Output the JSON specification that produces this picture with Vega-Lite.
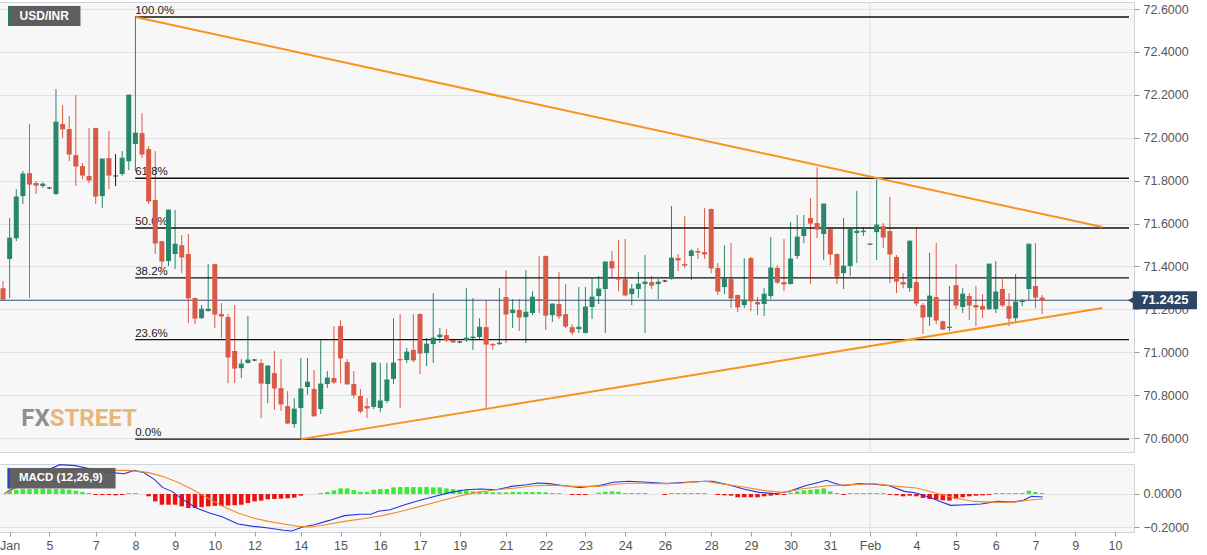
{
"$schema": "https://vega.github.io/schema/vega-lite/v6.json",
"padding": {"left": -2, "top": 1, "right": 0, "bottom": 0},
"background": "white",
"spacing": 10,
"config": {"view": {"fill": "#f7f7f7", "stroke": "#cfd3dc"}, "font": "Liberation Sans"},
"datasets": {
"candles": [
{"i":-1,"o":71.299,"h":71.332,"l":71.239,"c":71.248},
{"i":0,"o":71.435,"h":71.626,"l":71.253,"c":71.532},
{"i":1,"o":71.532,"h":71.761,"l":71.518,"c":71.724},
{"i":2,"o":71.728,"h":71.845,"l":71.691,"c":71.831},
{"i":3,"o":71.835,"h":72.064,"l":71.253,"c":71.784},
{"i":4,"o":71.789,"h":71.798,"l":71.738,"c":71.779},
{"i":5,"o":71.775,"h":71.793,"l":71.766,"c":71.784},
{"i":6,"o":71.766,"h":71.770,"l":71.761,"c":71.766},
{"i":7,"o":71.738,"h":72.227,"l":71.733,"c":72.073},
{"i":8,"o":72.064,"h":72.152,"l":71.999,"c":72.041},
{"i":9,"o":72.041,"h":72.101,"l":71.891,"c":71.924},
{"i":10,"o":71.919,"h":72.199,"l":71.775,"c":71.868},
{"i":11,"o":71.868,"h":71.882,"l":71.807,"c":71.826},
{"i":12,"o":71.822,"h":72.045,"l":71.789,"c":71.803},
{"i":13,"o":72.045,"h":72.047,"l":71.691,"c":71.728},
{"i":14,"o":71.728,"h":71.903,"l":71.672,"c":71.901},
{"i":15,"o":71.905,"h":72.031,"l":71.761,"c":71.826},
{"i":16,"o":71.822,"h":71.924,"l":71.775,"c":71.822},
{"i":17,"o":71.831,"h":71.938,"l":71.822,"c":71.905},
{"i":18,"o":71.891,"h":72.201,"l":71.849,"c":72.199},
{"i":19,"o":71.971,"h":72.567,"l":71.845,"c":72.022},
{"i":20,"o":72.022,"h":72.115,"l":71.905,"c":71.924},
{"i":21,"o":71.947,"h":71.961,"l":71.691,"c":71.705},
{"i":22,"o":71.710,"h":71.938,"l":71.458,"c":71.509},
{"i":23,"o":71.518,"h":71.520,"l":71.388,"c":71.425},
{"i":24,"o":71.425,"h":71.665,"l":71.402,"c":71.663},
{"i":25,"o":71.458,"h":71.663,"l":71.388,"c":71.504},
{"i":26,"o":71.499,"h":71.546,"l":71.369,"c":71.444},
{"i":27,"o":71.458,"h":71.551,"l":71.136,"c":71.253},
{"i":28,"o":71.253,"h":71.255,"l":71.131,"c":71.159},
{"i":29,"o":71.159,"h":71.220,"l":71.155,"c":71.201},
{"i":30,"o":71.192,"h":71.411,"l":71.190,"c":71.201},
{"i":31,"o":71.411,"h":71.413,"l":71.113,"c":71.178},
{"i":32,"o":71.178,"h":71.229,"l":71.066,"c":71.169},
{"i":33,"o":71.164,"h":71.178,"l":70.856,"c":70.978},
{"i":34,"o":71.006,"h":71.220,"l":70.856,"c":70.926},
{"i":35,"o":70.926,"h":70.968,"l":70.880,"c":70.945},
{"i":36,"o":70.950,"h":71.169,"l":70.948,"c":70.964},
{"i":37,"o":70.964,"h":70.968,"l":70.959,"c":70.964},
{"i":38,"o":70.950,"h":70.968,"l":70.693,"c":70.856},
{"i":39,"o":70.852,"h":70.938,"l":70.763,"c":70.936},
{"i":40,"o":70.903,"h":71.006,"l":70.731,"c":70.833},
{"i":41,"o":70.833,"h":70.968,"l":70.726,"c":70.759},
{"i":42,"o":70.749,"h":70.819,"l":70.665,"c":70.670},
{"i":43,"o":70.665,"h":70.786,"l":70.647,"c":70.735},
{"i":44,"o":70.740,"h":70.973,"l":70.595,"c":70.829},
{"i":45,"o":70.838,"h":70.973,"l":70.801,"c":70.861},
{"i":46,"o":70.829,"h":70.917,"l":70.701,"c":70.703},
{"i":47,"o":70.735,"h":71.057,"l":70.712,"c":70.852},
{"i":48,"o":70.852,"h":70.912,"l":70.833,"c":70.880},
{"i":49,"o":70.880,"h":71.122,"l":70.852,"c":70.861},
{"i":50,"o":71.122,"h":71.150,"l":70.856,"c":70.973},
{"i":51,"o":70.954,"h":70.968,"l":70.850,"c":70.852},
{"i":52,"o":70.852,"h":70.912,"l":70.786,"c":70.801},
{"i":53,"o":70.796,"h":70.829,"l":70.716,"c":70.726},
{"i":54,"o":70.749,"h":70.786,"l":70.693,"c":70.740},
{"i":55,"o":70.745,"h":70.952,"l":70.735,"c":70.950},
{"i":56,"o":70.740,"h":70.950,"l":70.721,"c":70.773},
{"i":57,"o":70.773,"h":70.950,"l":70.763,"c":70.871},
{"i":58,"o":70.876,"h":71.159,"l":70.852,"c":70.950},
{"i":59,"o":70.968,"h":71.178,"l":70.740,"c":70.964},
{"i":60,"o":70.964,"h":71.020,"l":70.950,"c":71.001},
{"i":61,"o":71.011,"h":71.178,"l":70.954,"c":70.964},
{"i":62,"o":71.178,"h":71.183,"l":70.898,"c":70.996},
{"i":63,"o":70.996,"h":71.066,"l":70.936,"c":71.038},
{"i":64,"o":71.038,"h":71.276,"l":70.950,"c":71.066},
{"i":65,"o":71.071,"h":71.113,"l":71.043,"c":71.080},
{"i":66,"o":71.080,"h":71.108,"l":71.048,"c":71.057},
{"i":67,"o":71.057,"h":71.062,"l":71.043,"c":71.048},
{"i":68,"o":71.048,"h":71.052,"l":71.043,"c":71.048},
{"i":69,"o":71.057,"h":71.299,"l":71.048,"c":71.066},
{"i":70,"o":71.066,"h":71.253,"l":71.011,"c":71.071},
{"i":71,"o":71.071,"h":71.159,"l":71.057,"c":71.117},
{"i":72,"o":71.117,"h":71.243,"l":70.740,"c":71.038},
{"i":73,"o":71.038,"h":71.043,"l":71.011,"c":71.034},
{"i":74,"o":71.038,"h":71.299,"l":71.034,"c":71.043},
{"i":75,"o":71.257,"h":71.383,"l":71.043,"c":71.178},
{"i":76,"o":71.183,"h":71.248,"l":71.113,"c":71.197},
{"i":77,"o":71.197,"h":71.248,"l":71.099,"c":71.164},
{"i":78,"o":71.164,"h":71.383,"l":71.043,"c":71.187},
{"i":79,"o":71.183,"h":71.285,"l":71.173,"c":71.257},
{"i":80,"o":71.248,"h":71.449,"l":71.183,"c":71.243},
{"i":81,"o":71.449,"h":71.451,"l":71.104,"c":71.173},
{"i":82,"o":71.173,"h":71.227,"l":71.141,"c":71.225},
{"i":83,"o":71.225,"h":71.374,"l":71.155,"c":71.169},
{"i":84,"o":71.178,"h":71.318,"l":71.113,"c":71.122},
{"i":85,"o":71.117,"h":71.131,"l":71.080,"c":71.094},
{"i":86,"o":71.108,"h":71.304,"l":71.090,"c":71.117},
{"i":87,"o":71.090,"h":71.304,"l":71.088,"c":71.211},
{"i":88,"o":71.211,"h":71.346,"l":71.155,"c":71.257},
{"i":89,"o":71.262,"h":71.355,"l":71.225,"c":71.295},
{"i":90,"o":71.295,"h":71.423,"l":71.090,"c":71.421},
{"i":91,"o":71.425,"h":71.472,"l":71.346,"c":71.393},
{"i":92,"o":71.346,"h":71.523,"l":71.285,"c":71.341},
{"i":93,"o":71.341,"h":71.528,"l":71.262,"c":71.267},
{"i":94,"o":71.271,"h":71.318,"l":71.220,"c":71.295},
{"i":95,"o":71.295,"h":71.374,"l":71.253,"c":71.318},
{"i":96,"o":71.318,"h":71.453,"l":71.090,"c":71.327},
{"i":97,"o":71.327,"h":71.355,"l":71.295,"c":71.313},
{"i":98,"o":71.318,"h":71.341,"l":71.248,"c":71.327},
{"i":99,"o":71.332,"h":71.337,"l":71.327,"c":71.332},
{"i":100,"o":71.341,"h":71.682,"l":71.339,"c":71.439},
{"i":101,"o":71.439,"h":71.458,"l":71.379,"c":71.430},
{"i":102,"o":71.411,"h":71.635,"l":71.393,"c":71.406},
{"i":103,"o":71.449,"h":71.481,"l":71.337,"c":71.472},
{"i":104,"o":71.472,"h":71.486,"l":71.435,"c":71.467},
{"i":105,"o":71.467,"h":71.672,"l":71.435,"c":71.458},
{"i":106,"o":71.668,"h":71.670,"l":71.369,"c":71.393},
{"i":107,"o":71.393,"h":71.416,"l":71.267,"c":71.285},
{"i":108,"o":71.304,"h":71.499,"l":71.271,"c":71.341},
{"i":109,"o":71.341,"h":71.509,"l":71.206,"c":71.253},
{"i":110,"o":71.267,"h":71.269,"l":71.187,"c":71.211},
{"i":111,"o":71.220,"h":71.439,"l":71.206,"c":71.243},
{"i":112,"o":71.439,"h":71.444,"l":71.192,"c":71.239},
{"i":113,"o":71.234,"h":71.257,"l":71.173,"c":71.225},
{"i":114,"o":71.225,"h":71.299,"l":71.169,"c":71.271},
{"i":115,"o":71.262,"h":71.537,"l":71.248,"c":71.393},
{"i":116,"o":71.393,"h":71.406,"l":71.318,"c":71.327},
{"i":117,"o":71.327,"h":71.528,"l":71.285,"c":71.318},
{"i":118,"o":71.318,"h":71.607,"l":71.316,"c":71.435},
{"i":119,"o":71.449,"h":71.640,"l":71.435,"c":71.537},
{"i":120,"o":71.542,"h":71.640,"l":71.509,"c":71.579},
{"i":121,"o":71.626,"h":71.719,"l":71.318,"c":71.602},
{"i":122,"o":71.602,"h":71.863,"l":71.532,"c":71.574},
{"i":123,"o":71.551,"h":71.693,"l":71.430,"c":71.691},
{"i":124,"o":71.574,"h":71.576,"l":71.406,"c":71.458},
{"i":125,"o":71.458,"h":71.460,"l":71.318,"c":71.355},
{"i":126,"o":71.369,"h":71.626,"l":71.295,"c":71.402},
{"i":127,"o":71.402,"h":71.579,"l":71.355,"c":71.574},
{"i":128,"o":71.556,"h":71.752,"l":71.416,"c":71.565},
{"i":129,"o":71.560,"h":71.584,"l":71.542,"c":71.565},
{"i":130,"o":71.504,"h":71.505,"l":71.503,"c":71.504},
{"i":131,"o":71.560,"h":71.807,"l":71.430,"c":71.593},
{"i":132,"o":71.588,"h":71.602,"l":71.486,"c":71.537},
{"i":133,"o":71.565,"h":71.724,"l":71.323,"c":71.458},
{"i":134,"o":71.444,"h":71.453,"l":71.276,"c":71.332},
{"i":135,"o":71.327,"h":71.369,"l":71.299,"c":71.318},
{"i":136,"o":71.299,"h":71.520,"l":71.281,"c":71.518},
{"i":137,"o":71.327,"h":71.584,"l":71.215,"c":71.229},
{"i":138,"o":71.220,"h":71.229,"l":71.085,"c":71.164},
{"i":139,"o":71.164,"h":71.463,"l":71.122,"c":71.262},
{"i":140,"o":71.257,"h":71.509,"l":71.131,"c":71.150},
{"i":141,"o":71.145,"h":71.147,"l":71.104,"c":71.108},
{"i":142,"o":71.113,"h":71.309,"l":71.099,"c":71.117},
{"i":143,"o":71.313,"h":71.411,"l":71.201,"c":71.220},
{"i":144,"o":71.211,"h":71.299,"l":71.183,"c":71.271},
{"i":145,"o":71.262,"h":71.276,"l":71.150,"c":71.220},
{"i":146,"o":71.220,"h":71.309,"l":71.122,"c":71.211},
{"i":147,"o":71.215,"h":71.271,"l":71.159,"c":71.201},
{"i":148,"o":71.201,"h":71.413,"l":71.197,"c":71.411},
{"i":149,"o":71.201,"h":71.425,"l":71.183,"c":71.281},
{"i":150,"o":71.295,"h":71.341,"l":71.211,"c":71.220},
{"i":151,"o":71.215,"h":71.276,"l":71.122,"c":71.159},
{"i":152,"o":71.159,"h":71.365,"l":71.145,"c":71.234},
{"i":153,"o":71.234,"h":71.248,"l":71.215,"c":71.239},
{"i":154,"o":71.295,"h":71.506,"l":71.239,"c":71.504},
{"i":155,"o":71.309,"h":71.509,"l":71.206,"c":71.257},
{"i":156,"o":71.255,"h":71.267,"l":71.178,"c":71.2425}
],
"fib": [
{"p":"100.0%","v":72.563},{"p":"61.8%","v":71.811},{"p":"50.0%","v":71.579},
{"p":"38.2%","v":71.347},{"p":"23.6%","v":71.059},{"p":"0.0%","v":70.595}
],
"trend": [
{"g":"upper","i":19,"v":72.563},{"g":"upper","i":165.1,"v":71.584},
{"g":"lower","i":44,"v":70.595},{"g":"lower","i":165.1,"v":71.206}
],
"lines": [
{"s":"MACD","i":-0.8,"v":0.002},{"s":"MACD","i":1.3,"v":0.056},{"s":"MACD","i":4.7,"v":0.127},{"s":"MACD","i":7.6,"v":0.178},{"s":"MACD","i":9.9,"v":0.172},{"s":"MACD","i":12.8,"v":0.147},{"s":"MACD","i":15,"v":0.131},{"s":"MACD","i":17.3,"v":0.123},{"s":"MACD","i":18.8,"v":0.143},{"s":"MACD","i":20.2,"v":0.131},{"s":"MACD","i":21.9,"v":0.087},{"s":"MACD","i":23.1,"v":0.040},{"s":"MACD","i":24.5,"v":0.016},{"s":"MACD","i":26.2,"v":-0.034},{"s":"MACD","i":28.2,"v":-0.085},{"s":"MACD","i":30.2,"v":-0.115},{"s":"MACD","i":32.2,"v":-0.139},{"s":"MACD","i":34.5,"v":-0.182},{"s":"MACD","i":36.8,"v":-0.196},{"s":"MACD","i":39.1,"v":-0.206},{"s":"MACD","i":41.4,"v":-0.220},{"s":"MACD","i":42.6,"v":-0.224},{"s":"MACD","i":44.3,"v":-0.200},{"s":"MACD","i":46,"v":-0.186},{"s":"MACD","i":48.3,"v":-0.160},{"s":"MACD","i":50.6,"v":-0.131},{"s":"MACD","i":52.9,"v":-0.123},{"s":"MACD","i":54.6,"v":-0.123},{"s":"MACD","i":55.7,"v":-0.105},{"s":"MACD","i":57.5,"v":-0.095},{"s":"MACD","i":59.7,"v":-0.065},{"s":"MACD","i":62,"v":-0.038},{"s":"MACD","i":64.3,"v":-0.014},{"s":"MACD","i":66.6,"v":0.010},{"s":"MACD","i":68.9,"v":0.026},{"s":"MACD","i":71.2,"v":0.030},{"s":"MACD","i":73.5,"v":0.026},{"s":"MACD","i":75.8,"v":0.046},{"s":"MACD","i":78.1,"v":0.056},{"s":"MACD","i":79.8,"v":0.067},{"s":"MACD","i":81.5,"v":0.063},{"s":"MACD","i":83.8,"v":0.050},{"s":"MACD","i":86.1,"v":0.040},{"s":"MACD","i":88.9,"v":0.050},{"s":"MACD","i":91.2,"v":0.071},{"s":"MACD","i":93.5,"v":0.077},{"s":"MACD","i":96.4,"v":0.071},{"s":"MACD","i":99.3,"v":0.063},{"s":"MACD","i":102.2,"v":0.071},{"s":"MACD","i":105.1,"v":0.077},{"s":"MACD","i":106.2,"v":0.077},{"s":"MACD","i":108.6,"v":0.056},{"s":"MACD","i":110.9,"v":0.030},{"s":"MACD","i":113.2,"v":0.010},{"s":"MACD","i":115.5,"v":0.002},{"s":"MACD","i":117.8,"v":0.016},{"s":"MACD","i":120.2,"v":0.050},{"s":"MACD","i":121.9,"v":0.067},{"s":"MACD","i":123.4,"v":0.083},{"s":"MACD","i":124.5,"v":0.067},{"s":"MACD","i":126,"v":0.050},{"s":"MACD","i":128.3,"v":0.063},{"s":"MACD","i":130.6,"v":0.059},{"s":"MACD","i":132.9,"v":0.050},{"s":"MACD","i":135.2,"v":0.016},{"s":"MACD","i":137,"v":0.006},{"s":"MACD","i":139.3,"v":-0.024},{"s":"MACD","i":141,"v":-0.051},{"s":"MACD","i":142.2,"v":-0.069},{"s":"MACD","i":144.5,"v":-0.065},{"s":"MACD","i":146.8,"v":-0.061},{"s":"MACD","i":149.2,"v":-0.045},{"s":"MACD","i":151.5,"v":-0.049},{"s":"MACD","i":153.2,"v":-0.038},{"s":"MACD","i":154.4,"v":-0.014},{"s":"MACD","i":156.1,"v":-0.018},
{"s":"Signal","i":-0.8,"v":0.002},{"s":"Signal","i":2.4,"v":0.067},{"s":"Signal","i":5.9,"v":0.123},{"s":"Signal","i":8.7,"v":0.143},{"s":"Signal","i":11.6,"v":0.147},{"s":"Signal","i":15,"v":0.143},{"s":"Signal","i":17.9,"v":0.143},{"s":"Signal","i":20.8,"v":0.131},{"s":"Signal","i":23.1,"v":0.107},{"s":"Signal","i":25.4,"v":0.071},{"s":"Signal","i":27.7,"v":0.026},{"s":"Signal","i":29.9,"v":-0.024},{"s":"Signal","i":32.2,"v":-0.075},{"s":"Signal","i":34.5,"v":-0.115},{"s":"Signal","i":36.8,"v":-0.146},{"s":"Signal","i":39.1,"v":-0.166},{"s":"Signal","i":41.4,"v":-0.182},{"s":"Signal","i":43.7,"v":-0.196},{"s":"Signal","i":45.4,"v":-0.200},{"s":"Signal","i":47.7,"v":-0.186},{"s":"Signal","i":50.6,"v":-0.166},{"s":"Signal","i":53.4,"v":-0.150},{"s":"Signal","i":56.3,"v":-0.131},{"s":"Signal","i":59.2,"v":-0.105},{"s":"Signal","i":62,"v":-0.075},{"s":"Signal","i":64.9,"v":-0.044},{"s":"Signal","i":67.8,"v":-0.014},{"s":"Signal","i":70.6,"v":0.010},{"s":"Signal","i":73.5,"v":0.026},{"s":"Signal","i":76.4,"v":0.036},{"s":"Signal","i":79.2,"v":0.050},{"s":"Signal","i":82.1,"v":0.054},{"s":"Signal","i":85,"v":0.046},{"s":"Signal","i":88.9,"v":0.046},{"s":"Signal","i":91.8,"v":0.061},{"s":"Signal","i":94.7,"v":0.067},{"s":"Signal","i":98.1,"v":0.063},{"s":"Signal","i":101.6,"v":0.067},{"s":"Signal","i":105.1,"v":0.077},{"s":"Signal","i":107.4,"v":0.063},{"s":"Signal","i":110.9,"v":0.042},{"s":"Signal","i":113.8,"v":0.022},{"s":"Signal","i":116.7,"v":0.010},{"s":"Signal","i":119.6,"v":0.030},{"s":"Signal","i":123.6,"v":0.050},{"s":"Signal","i":126.5,"v":0.055},{"s":"Signal","i":130.6,"v":0.063},{"s":"Signal","i":134.1,"v":0.046},{"s":"Signal","i":137,"v":0.036},{"s":"Signal","i":139.9,"v":0.006},{"s":"Signal","i":142.8,"v":-0.024},{"s":"Signal","i":145.7,"v":-0.045},{"s":"Signal","i":148.6,"v":-0.049},{"s":"Signal","i":151.5,"v":-0.051},{"s":"Signal","i":153.8,"v":-0.038},{"s":"Signal","i":156.1,"v":-0.030}
],
"hist": [
{"i":0,"h":0.020},{"i":1,"h":0.026},{"i":2,"h":0.030},{"i":3,"h":0.030},{"i":4,"h":0.032},{"i":5,"h":0.032},{"i":6,"h":0.030},{"i":7,"h":0.030},{"i":8,"h":0.030},{"i":9,"h":0.026},{"i":10,"h":0.020},{"i":11,"h":0.012},{"i":12,"h":0.006},{"i":13,"h":-0.006},{"i":14,"h":-0.006},{"i":15,"h":-0.006},{"i":16,"h":-0.008},{"i":17,"h":-0.006},{"i":18,"h":0.006},{"i":19,"h":0.006},
{"i":21,"h":-0.014},{"i":22,"h":-0.045},{"i":23,"h":-0.065},{"i":24,"h":-0.065},{"i":25,"h":-0.065},{"i":26,"h":-0.075},{"i":27,"h":-0.085},{"i":28,"h":-0.085},{"i":29,"h":-0.080},{"i":30,"h":-0.075},{"i":31,"h":-0.072},{"i":32,"h":-0.072},{"i":33,"h":-0.070},{"i":34,"h":-0.068},{"i":35,"h":-0.065},{"i":36,"h":-0.055},{"i":37,"h":-0.045},{"i":38,"h":-0.040},{"i":39,"h":-0.032},{"i":40,"h":-0.030},{"i":41,"h":-0.028},{"i":42,"h":-0.026},{"i":43,"h":-0.022},{"i":44,"h":-0.010},
{"i":47,"h":0.006},{"i":48,"h":0.012},{"i":49,"h":0.022},{"i":50,"h":0.034},{"i":51,"h":0.034},{"i":52,"h":0.024},{"i":53,"h":0.014},{"i":54,"h":0.012},{"i":55,"h":0.026},{"i":56,"h":0.030},{"i":57,"h":0.030},{"i":58,"h":0.040},{"i":59,"h":0.042},{"i":60,"h":0.042},{"i":61,"h":0.042},{"i":62,"h":0.042},{"i":63,"h":0.042},{"i":64,"h":0.040},{"i":65,"h":0.040},{"i":66,"h":0.034},{"i":67,"h":0.030},{"i":68,"h":0.026},{"i":69,"h":0.022},{"i":70,"h":0.016},{"i":71,"h":0.014},{"i":72,"h":0.012},{"i":73,"h":0.010},{"i":74,"h":0.010},{"i":75,"h":0.010},{"i":76,"h":0.012},{"i":77,"h":0.012},{"i":78,"h":0.012},{"i":79,"h":0.012},{"i":80,"h":0.012},{"i":81,"h":0.010},{"i":82,"h":0.006},{"i":83,"h":0.006},
{"i":85,"h":-0.006},{"i":86,"h":-0.006},{"i":87,"h":-0.006},
{"i":89,"h":0.008},{"i":90,"h":0.014},{"i":91,"h":0.016},{"i":92,"h":0.014},{"i":93,"h":0.006},{"i":94,"h":0.006},{"i":95,"h":0.006},{"i":96,"h":0.006},
{"i":99,"h":-0.006},{"i":100,"h":0.006},{"i":101,"h":0.006},{"i":102,"h":0.006},{"i":103,"h":0.006},{"i":104,"h":0.006},{"i":105,"h":0.006},
{"i":107,"h":-0.006},{"i":108,"h":-0.008},{"i":109,"h":-0.010},{"i":110,"h":-0.020},{"i":111,"h":-0.020},{"i":112,"h":-0.020},{"i":113,"h":-0.020},{"i":114,"h":-0.014},{"i":115,"h":-0.010},{"i":116,"h":-0.006},{"i":117,"h":-0.006},
{"i":118,"h":0.008},{"i":119,"h":0.016},{"i":120,"h":0.022},{"i":121,"h":0.026},{"i":122,"h":0.030},{"i":123,"h":0.034},{"i":124,"h":0.016},{"i":125,"h":0.006},{"i":126,"h":-0.006},
{"i":127,"h":0.006},{"i":128,"h":0.006},{"i":129,"h":0.006},{"i":130,"h":0.006},{"i":131,"h":0.006},{"i":132,"h":0.006},
{"i":133,"h":-0.006},{"i":134,"h":-0.008},{"i":135,"h":-0.014},{"i":136,"h":-0.010},{"i":137,"h":-0.014},{"i":138,"h":-0.024},{"i":139,"h":-0.030},{"i":140,"h":-0.034},{"i":141,"h":-0.038},{"i":142,"h":-0.040},{"i":143,"h":-0.030},{"i":144,"h":-0.020},{"i":145,"h":-0.014},{"i":146,"h":-0.010},{"i":147,"h":-0.008},{"i":148,"h":-0.006},
{"i":149,"h":0.006},{"i":150,"h":0.006},{"i":151,"h":0.006},{"i":152,"h":0.006},{"i":153,"h":0.006},{"i":154,"h":0.020},{"i":155,"h":0.012},{"i":156,"h":0.006}
]
},
"vconcat": [
{
"width": 1135, "height": 450,
"layer": [
{"data": {"values": [{"i": 130}]}, "mark": {"type": "rule", "color": "#e0e0e0", "strokeWidth": 1},
 "encoding": {"x": {"field": "i", "type": "quantitative", "scale": {"domain": [-0.854, 169.13], "nice": false, "zero": false}, "axis": null}}},
{"data": {"name": "candles"}, "mark": {"type": "rule", "strokeWidth": 1, "clip": true},
 "encoding": {
  "x": {"field": "i", "type": "quantitative", "scale": {"domain": [-0.854, 169.13], "nice": false, "zero": false}, "axis": null},
  "y": {"field": "l", "type": "quantitative", "title": null, "scale": {"domain": [70.535, 72.633], "nice": false, "zero": false},
        "axis": {"orient": "right", "values": [70.6, 70.8, 71.0, 71.2, 71.4, 71.6, 71.8, 72.0, 72.2, 72.4, 72.6], "format": ".4f", "title": null, "grid": true, "gridColor": "#e2e2e2", "domain": false, "tickSize": 5, "tickColor": "#999", "labelColor": "#555", "labelFontSize": 12.5, "labelPadding": 4}},
  "y2": {"field": "h"},
  "color": {"condition": [{"test": "datum.c > datum.o", "value": "#27866b"}, {"test": "datum.c < datum.o", "value": "#d85a47"}], "value": "#1a1a1a"}
 }},
{"data": {"name": "fib"}, "mark": {"type": "rule", "color": "#111111", "strokeWidth": 1.4},
 "encoding": {"x": {"datum": 18.97, "type": "quantitative", "scale": {"domain": [-0.854, 169.13], "nice": false, "zero": false}, "axis": null}, "x2": {"datum": 169.13},
  "y": {"field": "v", "type": "quantitative", "title": null, "scale": {"domain": [70.535, 72.633], "nice": false, "zero": false}}}},
{"data": {"name": "fib"}, "mark": {"type": "text", "align": "left", "baseline": "bottom", "dy": -1, "fontSize": 11.5, "color": "#222"},
 "encoding": {"x": {"datum": 18.97, "type": "quantitative", "scale": {"domain": [-0.854, 169.13], "nice": false, "zero": false}, "axis": null},
  "y": {"field": "v", "type": "quantitative", "title": null, "scale": {"domain": [70.535, 72.633], "nice": false, "zero": false}},
  "text": {"field": "p"}}},
{"data": {"values": [{}]}, "mark": {"type": "rule", "color": "#34506e", "strokeWidth": 1},
 "encoding": {"y": {"datum": 71.2425, "type": "quantitative", "title": null, "scale": {"domain": [70.535, 72.633], "nice": false, "zero": false}}}},
{"data": {"name": "candles"}, "mark": {"type": "bar", "size": 5, "clip": true},
 "encoding": {
  "x": {"field": "i", "type": "quantitative", "scale": {"domain": [-0.854, 169.13], "nice": false, "zero": false}, "axis": null},
  "y": {"field": "o", "type": "quantitative", "title": null, "scale": {"domain": [70.535, 72.633], "nice": false, "zero": false}},
  "y2": {"field": "c"},
  "color": {"condition": [{"test": "datum.c > datum.o", "value": "#27866b"}, {"test": "datum.c < datum.o", "value": "#d85a47"}], "value": "#1a1a1a"}
 }},
{"data": {"name": "candles"}, "mark": {"type": "tick", "orient": "horizontal", "size": 5, "thickness": 1.2, "clip": true},
 "encoding": {
  "x": {"field": "i", "type": "quantitative", "scale": {"domain": [-0.854, 169.13], "nice": false, "zero": false}, "axis": null},
  "y": {"field": "c", "type": "quantitative", "title": null, "scale": {"domain": [70.535, 72.633], "nice": false, "zero": false}},
  "color": {"condition": [{"test": "datum.c > datum.o", "value": "#27866b"}, {"test": "datum.c < datum.o", "value": "#d85a47"}], "value": "#1a1a1a"}
 }},
{"data": {"name": "trend"}, "mark": {"type": "line", "color": "#f7931e", "strokeWidth": 2},
 "encoding": {"x": {"field": "i", "type": "quantitative", "scale": {"domain": [-0.854, 169.13], "nice": false, "zero": false}, "axis": null},
  "y": {"field": "v", "type": "quantitative", "title": null, "scale": {"domain": [70.535, 72.633], "nice": false, "zero": false}}, "detail": {"field": "g"}}},
{"data": {"values": [{}]}, "mark": {"type": "rect", "color": "#5e5e5e"},
 "encoding": {"x": {"datum": -0.25, "type": "quantitative", "scale": {"domain": [-0.854, 169.13], "nice": false, "zero": false}, "axis": null}, "x2": {"datum": 10.7},
  "y": {"datum": 72.614, "type": "quantitative", "title": null, "scale": {"domain": [70.535, 72.633], "nice": false, "zero": false}}, "y2": {"datum": 72.521}}},
{"data": {"values": [{}]}, "mark": {"type": "rect", "color": "#2a7a68"},
 "encoding": {"x": {"datum": -0.25, "type": "quantitative", "scale": {"domain": [-0.854, 169.13], "nice": false, "zero": false}, "axis": null}, "x2": {"datum": 0.1},
  "y": {"datum": 72.614, "type": "quantitative", "title": null, "scale": {"domain": [70.535, 72.633], "nice": false, "zero": false}}, "y2": {"datum": 72.521}}},
{"data": {"values": [{"t": "USD/INR"}]}, "mark": {"type": "text", "align": "left", "baseline": "middle", "fontSize": 12, "fontWeight": "bold", "color": "white"},
 "encoding": {"x": {"datum": 1.5, "type": "quantitative", "scale": {"domain": [-0.854, 169.13], "nice": false, "zero": false}, "axis": null},
  "y": {"datum": 72.567, "type": "quantitative", "title": null, "scale": {"domain": [70.535, 72.633], "nice": false, "zero": false}}, "text": {"field": "t"}}},
{"data": {"values": [{"t": "FX"}]}, "mark": {"type": "text", "align": "right", "baseline": "middle", "fontSize": 24, "fontWeight": "bold", "font": "Roboto", "color": "#8e8e8e"},
 "encoding": {"x": {"datum": 6.04, "type": "quantitative", "scale": {"domain": [-0.854, 169.13], "nice": false, "zero": false}, "axis": null},
  "y": {"datum": 70.689, "type": "quantitative", "title": null, "scale": {"domain": [70.535, 72.633], "nice": false, "zero": false}}, "text": {"field": "t"}}},
{"data": {"values": [{"t": "STREET"}]}, "mark": {"type": "text", "align": "left", "baseline": "middle", "fontSize": 24, "fontWeight": "bold", "font": "Roboto", "color": "#e9b67a"},
 "encoding": {"x": {"datum": 6.04, "type": "quantitative", "scale": {"domain": [-0.854, 169.13], "nice": false, "zero": false}, "axis": null},
  "y": {"datum": 70.689, "type": "quantitative", "title": null, "scale": {"domain": [70.535, 72.633], "nice": false, "zero": false}}, "text": {"field": "t"}}},
{"data": {"values": [{}]}, "mark": {"type": "rect", "color": "#2b4566", "clip": false},
 "encoding": {"x": {"datum": 169.7, "type": "quantitative", "scale": {"domain": [-0.854, 169.13], "nice": false, "zero": false}, "axis": null}, "x2": {"datum": 179.4},
  "y": {"datum": 71.2845, "type": "quantitative", "title": null, "scale": {"domain": [70.535, 72.633], "nice": false, "zero": false}}, "y2": {"datum": 71.2005}}},
{"data": {"values": [{}]}, "mark": {"type": "point", "shape": "triangle-left", "filled": true, "size": 60, "color": "#2b4566", "opacity": 1, "clip": false},
 "encoding": {"x": {"datum": 169.45, "type": "quantitative", "scale": {"domain": [-0.854, 169.13], "nice": false, "zero": false}, "axis": null},
  "y": {"datum": 71.2425, "type": "quantitative", "title": null, "scale": {"domain": [70.535, 72.633], "nice": false, "zero": false}}}},
{"data": {"values": [{"t": "71.2425"}]}, "mark": {"type": "text", "align": "center", "baseline": "middle", "fontSize": 13, "fontWeight": "bold", "color": "white", "clip": false},
 "encoding": {"x": {"datum": 174.55, "type": "quantitative", "scale": {"domain": [-0.854, 169.13], "nice": false, "zero": false}, "axis": null},
  "y": {"datum": 71.2425, "type": "quantitative", "title": null, "scale": {"domain": [70.535, 72.633], "nice": false, "zero": false}}, "text": {"field": "t"}}}
]
},
{
"width": 1135, "height": 68,
"layer": [
{"data": {"values": [{"i": 130}]}, "mark": {"type": "rule", "color": "#e0e0e0", "strokeWidth": 1},
 "encoding": {"x": {"field": "i", "type": "quantitative", "title": null, "scale": {"domain": [-0.854, 169.13], "nice": false, "zero": false},
  "axis": {"values": [0, 6, 13, 19, 25, 31, 37, 44, 50, 56, 62, 68, 75, 81, 87, 93, 99, 106, 112, 118, 124, 130, 137, 143, 149, 155, 161, 167],
   "labelExpr": "datum.value == 0 ? 'Jan' : datum.value == 6 ? '5' : datum.value == 13 ? '7' : datum.value == 19 ? '8' : datum.value == 25 ? '9' : datum.value == 31 ? '10' : datum.value == 37 ? '12' : datum.value == 44 ? '14' : datum.value == 50 ? '15' : datum.value == 56 ? '16' : datum.value == 62 ? '17' : datum.value == 68 ? '19' : datum.value == 75 ? '21' : datum.value == 81 ? '22' : datum.value == 87 ? '23' : datum.value == 93 ? '24' : datum.value == 99 ? '26' : datum.value == 106 ? '28' : datum.value == 112 ? '29' : datum.value == 118 ? '30' : datum.value == 124 ? '31' : datum.value == 130 ? 'Feb' : datum.value == 137 ? '4' : datum.value == 143 ? '5' : datum.value == 149 ? '6' : datum.value == 155 ? '7' : datum.value == 161 ? '9' : '10'",
   "title": null, "grid": false, "domain": false, "tickSize": 4, "tickColor": "#999", "labelColor": "#555", "labelFontSize": 12.5, "labelPadding": 3, "labelFlush": false}}}},
{"data": {"name": "hist"}, "mark": {"type": "bar", "size": 4.5},
 "encoding": {
  "x": {"field": "i", "type": "quantitative", "title": null, "scale": {"domain": [-0.854, 169.13], "nice": false, "zero": false}},
  "y": {"field": "h", "type": "quantitative", "title": null, "scale": {"domain": [-0.2303, 0.1818], "nice": false, "zero": false},
        "axis": {"orient": "right", "values": [0, -0.2], "format": ".4f", "title": null, "grid": true, "gridColor": "#e2e2e2", "domain": false, "tickSize": 5, "tickColor": "#999", "labelColor": "#555", "labelFontSize": 12.5, "labelPadding": 4}},
  "y2": {"datum": 0},
  "color": {"condition": {"test": "datum.h >= 0", "value": "#33ee33"}, "value": "#ee1111"}
 }},
{"data": {"name": "lines"}, "mark": {"type": "line", "strokeWidth": 1.1, "clip": true},
 "encoding": {
  "x": {"field": "i", "type": "quantitative", "title": null, "scale": {"domain": [-0.854, 169.13], "nice": false, "zero": false}},
  "y": {"field": "v", "type": "quantitative", "title": null, "scale": {"domain": [-0.2303, 0.1818], "nice": false, "zero": false}},
  "color": {"field": "s", "type": "nominal", "scale": {"domain": ["MACD", "Signal"], "range": ["#2233dd", "#f08a30"]}, "legend": null}
 }},
{"data": {"values": [{}]}, "mark": {"type": "rect", "color": "#5a5a5a", "opacity": 0.95},
 "encoding": {"x": {"datum": -0.31, "type": "quantitative", "title": null, "scale": {"domain": [-0.854, 169.13], "nice": false, "zero": false}}, "x2": {"datum": 16.0},
  "y": {"datum": 0.158, "type": "quantitative", "title": null, "scale": {"domain": [-0.2303, 0.1818], "nice": false, "zero": false}}, "y2": {"datum": 0.034}}},
{"data": {"values": [{}]}, "mark": {"type": "rect", "color": "#2244cc"},
 "encoding": {"x": {"datum": -0.31, "type": "quantitative", "title": null, "scale": {"domain": [-0.854, 169.13], "nice": false, "zero": false}}, "x2": {"datum": 0.0},
  "y": {"datum": 0.158, "type": "quantitative", "title": null, "scale": {"domain": [-0.2303, 0.1818], "nice": false, "zero": false}}, "y2": {"datum": 0.034}}},
{"data": {"values": [{"t": "MACD (12,26,9)"}]}, "mark": {"type": "text", "align": "left", "baseline": "middle", "fontSize": 11.5, "fontWeight": "bold", "color": "white"},
 "encoding": {"x": {"datum": 1.4, "type": "quantitative", "title": null, "scale": {"domain": [-0.854, 169.13], "nice": false, "zero": false}},
  "y": {"datum": 0.096, "type": "quantitative", "title": null, "scale": {"domain": [-0.2303, 0.1818], "nice": false, "zero": false}}, "text": {"field": "t"}}}
]
}
]
}
